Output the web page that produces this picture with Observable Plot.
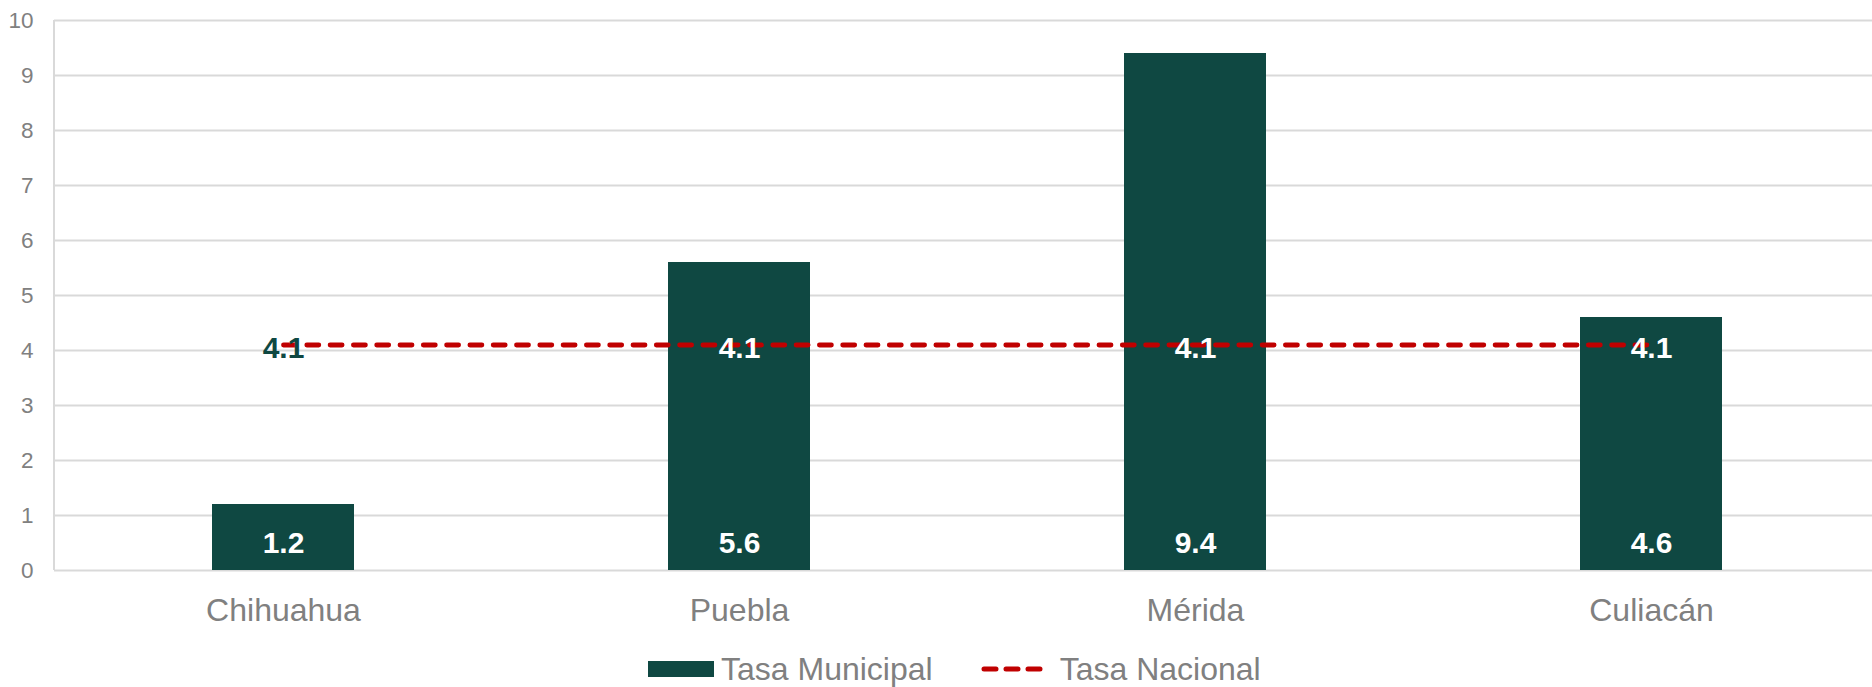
<!DOCTYPE html>
<html>
<head>
<meta charset="utf-8">
<script src="https://cdn.jsdelivr.net/npm/d3@7"></script>
<script src="https://cdn.jsdelivr.net/npm/@observablehq/plot@0.6"></script>
<style>
  html, body { margin: 0; padding: 0; background: #fff; }
  body { width: 1872px; height: 687px; overflow: hidden; position: relative; font-family: "Liberation Sans", Arial, sans-serif; }
  #chart svg { display: block; }
  #legend { position: absolute; left: 648px; top: 651px; height: 36px; display: flex; align-items: center; color: #808080; font-size: 32px; white-space: nowrap; }
  #legend .item { display: flex; align-items: center; }
  #legend .sw { display: inline-block; width: 66px; height: 16px; background: #0f4842; margin-right: 7px; }
  #legend svg { margin-right: 13px; }
</style>
</head>
<body>
<div id="chart"></div>
<div id="legend"></div>
<script>
const categories = ["Chihuahua", "Puebla", "Mérida", "Culiacán"];
const municipal = [1.2, 5.6, 9.4, 4.6];
const nacional = [4.1, 4.1, 4.1, 4.1];
const yTicks = [0, 1, 2, 3, 4, 5, 6, 7, 8, 9, 10];
const seriesNames = ["Tasa Municipal", "Tasa Nacional"];
const barColor = "#0f4842";
const lineColor = "#c00000";
const gridColor = "#d9d9d9";

const bars = categories.map((c, i) => ({city: c, value: municipal[i]}));
const line = categories.map((c, i) => ({city: c, value: nacional[i], inside: municipal[i] > nacional[i] + 0.4}));

const leftAxisLine = (index, scales, values, dims) => {
  const ns = "http://www.w3.org/2000/svg";
  const l = document.createElementNS(ns, "line");
  l.setAttribute("x1", dims.marginLeft);
  l.setAttribute("x2", dims.marginLeft);
  l.setAttribute("y1", scales.y(yTicks[0]));
  l.setAttribute("y2", scales.y(yTicks[yTicks.length - 1]));
  l.setAttribute("stroke", gridColor);
  l.setAttribute("stroke-width", 2);
  return l;
};

const chart = Plot.plot({
  width: 1872,
  height: 635,
  marginTop: 20,
  marginBottom: 65,
  marginLeft: 54,
  marginRight: 0,
  style: {fontFamily: "'Liberation Sans', Arial, sans-serif", color: "#808080", background: "#fff", overflow: "hidden"},
  x: {domain: categories, range: [54, 1880.5], paddingInner: 0.689, paddingOuter: 0.3445, label: null},
  y: {domain: [0, 10], label: null},
  marks: [
    Plot.ruleY(yTicks, {stroke: gridColor, strokeWidth: 2}),
    leftAxisLine,
    Plot.axisY({ticks: yTicks, tickSize: 0, tickPadding: 21, fontSize: 22.5, label: null, tickFormat: d => String(d)}),
    Plot.axisX({tickSize: 0, tickPadding: 28, fontSize: 32, label: null}),
    Plot.barY(bars, {x: "city", y: "value", fill: barColor}),
    Plot.line(line, {x: "city", y: "value", stroke: lineColor, strokeWidth: 4.8, strokeDasharray: "12,11.3", strokeLinecap: "round"}),
    Plot.text(bars, {x: "city", y: 0, text: d => d.value.toFixed(1), dy: -27, fill: "#fff", fontSize: 30, fontWeight: "bold", lineAnchor: "middle"}),
    Plot.text(line, {x: "city", y: "value", text: d => d.value.toFixed(1), dy: 3, fill: d => d.inside ? "#fff" : barColor, fontSize: 30, fontWeight: "bold", lineAnchor: "middle"})
  ]
});
document.getElementById("chart").appendChild(chart);

const legend = document.getElementById("legend");
legend.innerHTML =
  `<span class="item"><span class="sw"></span><span>${seriesNames[0]}</span></span>` +
  `<span class="item" style="margin-left:48px"><svg width="66" height="16"><line x1="3" y1="8" x2="63" y2="8" stroke="${lineColor}" stroke-width="5" stroke-linecap="round" stroke-dasharray="12,10"/></svg><span>${seriesNames[1]}</span></span>`;
</script>
</body>
</html>
